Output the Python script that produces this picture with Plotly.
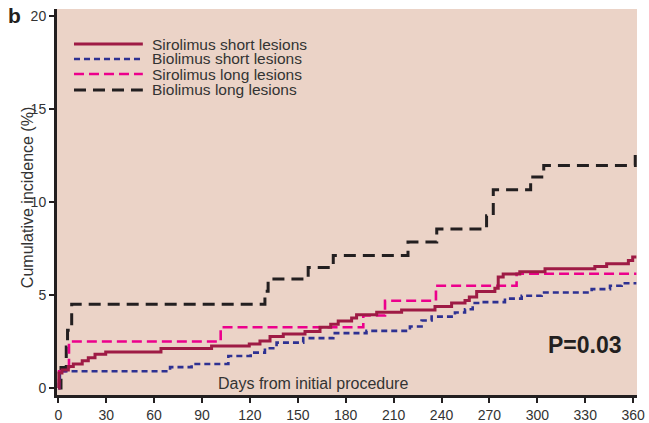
import plotly.graph_objects as go

# ---- data (days from initial procedure, cumulative incidence %) ----
sir_short_days = [0, 0.4, 2.3, 6.3, 9.4, 15, 18.8, 23, 29.7, 64.3, 96, 119.6, 126.3, 132.6,
                  140.9, 154.5, 163.9, 170.6, 175.3, 183.7, 186.8, 199.4, 215, 235.9, 246.3,
                  254.7, 257.4, 262, 273.4, 275.5, 278.6, 289, 304.8, 336, 343.4, 357, 359.7, 362]
sir_short_vals = [0, 0.8, 0.97, 1.15, 1.29, 1.47, 1.63, 1.82, 1.94, 2.12, 2.26, 2.36, 2.53, 2.77,
                  2.9, 3.04, 3.27, 3.43, 3.61, 3.76, 3.94, 4.08, 4.2, 4.38, 4.57,
                  4.71, 4.89, 5.19, 5.37, 5.97, 6.13, 6.25, 6.42, 6.54, 6.68, 6.86, 7.05, 7.05]

bio_short_days = [0, 0.5, 1, 70, 83.5, 106.5, 120.5, 129.4, 136.7, 153.4, 172.2, 193, 220.2,
                  227.5, 233.8, 248.4, 254.7, 259.5, 265.1, 279.7, 290.2, 302.7, 334, 345.5, 352.8, 362]
bio_short_vals = [0, 0.45, 0.9, 1.12, 1.29, 1.72, 1.9, 2.14, 2.44, 2.68, 2.95, 3.07, 3.31,
                  3.63, 3.84, 4.06, 4.24, 4.57, 4.62, 4.81, 4.96, 5.14, 5.32, 5.5, 5.64, 5.64]

sir_long_days = [0, 0.5, 6.7, 101.7, 191, 204.6, 236.5, 287, 362]
sir_long_vals = [0, 0.9, 2.5, 3.27, 3.9, 4.69, 5.5, 6.15, 6.15]

bio_long_days = [0, 1.7, 5, 5.8, 8.4, 129.4, 131.4, 156.5, 172.2, 219, 237, 268.2, 272.4,
                 295.8, 304, 361.3, 362]
bio_long_vals = [0, 1.1, 2.2, 3.1, 4.5, 5.2, 5.86, 6.49, 7.13, 7.85, 8.55, 9.27, 10.67,
                 11.36, 11.97, 12.67, 12.67]

series_names = ["Sirolimus short lesions", "Biolimus short lesions",
                "Sirolimus long lesions", "Biolimus long lesions"]
x_ticks = [0, 30, 60, 90, 120, 150, 180, 210, 240, 270, 300, 330, 360]
y_ticks = [0, 5, 10, 15, 20]

# ---- styles ----
styles = {
    "Sirolimus short lesions": dict(color="#9E1B45", width=3, dash="solid"),
    "Biolimus short lesions": dict(color="#2E3192", width=2.6, dash="6px,4px"),
    "Sirolimus long lesions": dict(color="#EC008C", width=2.6, dash="10px,5px"),
    "Biolimus long lesions": dict(color="#231F20", width=3, dash="12px,7px"),
}
FONT = "Liberation Sans, Arial, sans-serif"
TXT = "#333333"

fig = go.Figure()
data = {
    "Biolimus long lesions": (bio_long_days, bio_long_vals),
    "Sirolimus long lesions": (sir_long_days, sir_long_vals),
    "Biolimus short lesions": (bio_short_days, bio_short_vals),
    "Sirolimus short lesions": (sir_short_days, sir_short_vals),
}
for name, (xs, ys) in data.items():
    fig.add_trace(go.Scatter(x=xs, y=ys, mode="lines", name=name, line_shape="hv",
                             line=styles[name], showlegend=False, hoverinfo="skip"))

# ---- manual legend (paper coords) ----
leg_y = [0.9093, 0.8705, 0.8316, 0.7902]
for name, yy in zip(series_names, leg_y):
    st = styles[name]
    fig.add_shape(type="line", xref="paper", yref="paper", x0=0.0293, x1=0.148, y0=yy, y1=yy,
                  line=dict(color=st["color"], width=st["width"], dash=st["dash"]))
    fig.add_annotation(xref="paper", yref="paper", x=0.161, y=yy, text=name, showarrow=False,
                       xanchor="left", yanchor="middle",
                       font=dict(family=FONT, size=15.5, color=TXT))

fig.add_annotation(xref="paper", yref="paper", x=-0.074, y=0.982, text="<b>b</b>",
                   showarrow=False, xanchor="center", yanchor="middle",
                   font=dict(family=FONT, size=21, color="#231F20"))
fig.add_annotation(xref="paper", yref="paper", x=-0.0517, y=0.51,
                   text="Cumulative incidence (%)", textangle=-90, showarrow=False,
                   xanchor="center", yanchor="middle",
                   font=dict(family=FONT, size=16, color=TXT))
fig.add_annotation(xref="paper", yref="paper", x=0.441, y=0.031,
                   text="Days from initial procedure", showarrow=False,
                   xanchor="center", yanchor="middle",
                   font=dict(family=FONT, size=16, color=TXT))
fig.add_annotation(xref="paper", yref="paper", x=0.910, y=0.1295,
                   text="<b>P=0.03</b>", showarrow=False,
                   xanchor="center", yanchor="middle",
                   font=dict(family=FONT, size=23, color="#231F20"))

fig.update_layout(
    width=649, height=423,
    margin=dict(l=57, r=12, t=9, b=28),
    paper_bgcolor="white",
    plot_bgcolor="#EBD3C7",
    xaxis=dict(range=[-0.8, 362.4], tickvals=x_ticks, ticks="outside", ticklen=5,
               tickwidth=2, tickcolor="#231F20", showline=True, linewidth=3,
               linecolor="#231F20", showgrid=False, zeroline=False, automargin=False,
               tickfont=dict(family=FONT, size=14, color=TXT)),
    yaxis=dict(range=[-0.38, 20.4], tickvals=y_ticks, ticks="outside", ticklen=5,
               tickwidth=2, tickcolor="#231F20", showline=True, linewidth=3,
               linecolor="#231F20", showgrid=False, zeroline=False, automargin=False,
               tickfont=dict(family=FONT, size=14, color=TXT)),
)

fig.write_html("out.html")
